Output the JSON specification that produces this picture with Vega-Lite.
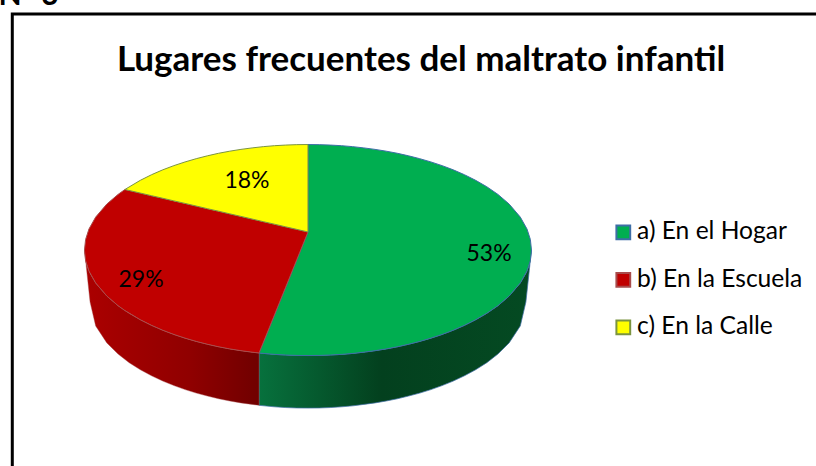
{
"$schema":"https://vega.github.io/schema/vega-lite/v6.json",
"width":816,"height":466,"padding":0,"autosize":{"type":"none"},
"background":"white",
"config":{"view":{"stroke":null}},
"title":{"text":"Lugares frecuentes del maltrato infantil","font":"Lato","fontSize":35,"fontWeight":"bold","color":"black","anchor":"middle","frame":"group","dx":13,"dy":97,"offset":0},
"datasets":{
"marco":[{"u":-1.323,"v":2.237,"u2":2.4,"v2":-2.3}],
"nota":[{"u":-1.385,"v":2.32,"texto":"N°  3"}],
"paredVerde":[
{"u":-0.219,"v":-0.976,"v2":-1.472},{"u":-0.15,"v":-0.989,"v2":-1.486},{"u":-0.1,"v":-0.995,"v2":-1.493},{"u":-0.05,"v":-0.999,"v2":-1.497},{"u":0,"v":-1,"v2":-1.498},{"u":0.05,"v":-0.999,"v2":-1.497},{"u":0.1,"v":-0.995,"v2":-1.493},{"u":0.15,"v":-0.989,"v2":-1.486},{"u":0.2,"v":-0.98,"v2":-1.477},{"u":0.25,"v":-0.968,"v2":-1.463},{"u":0.3,"v":-0.954,"v2":-1.449},{"u":0.35,"v":-0.937,"v2":-1.431},{"u":0.4,"v":-0.917,"v2":-1.41},{"u":0.45,"v":-0.893,"v2":-1.384},{"u":0.5,"v":-0.866,"v2":-1.356},{"u":0.55,"v":-0.835,"v2":-1.323},{"u":0.6,"v":-0.8,"v2":-1.285},{"u":0.65,"v":-0.76,"v2":-1.242},{"u":0.7,"v":-0.714,"v2":-1.192},{"u":0.75,"v":-0.661,"v2":-1.135},{"u":0.8,"v":-0.6,"v2":-1.068},{"u":0.85,"v":-0.527,"v2":-0.985},{"u":0.9,"v":-0.436,"v2":-0.88},{"u":0.95,"v":-0.312,"v2":-0.719},{"u":0.975,"v":-0.222,"v2":-0.493},{"u":0.99,"v":-0.141,"v2":-0.197},{"u":1,"v":0,"v2":0}],
"paredRoja":[
{"u":-1,"v":0,"v2":0},{"u":-0.99,"v":-0.141,"v2":-0.197},{"u":-0.975,"v":-0.222,"v2":-0.493},{"u":-0.95,"v":-0.312,"v2":-0.719},{"u":-0.9,"v":-0.436,"v2":-0.88},{"u":-0.85,"v":-0.527,"v2":-0.985},{"u":-0.8,"v":-0.6,"v2":-1.068},{"u":-0.75,"v":-0.661,"v2":-1.135},{"u":-0.7,"v":-0.714,"v2":-1.192},{"u":-0.65,"v":-0.76,"v2":-1.242},{"u":-0.6,"v":-0.8,"v2":-1.285},{"u":-0.55,"v":-0.835,"v2":-1.323},{"u":-0.5,"v":-0.866,"v2":-1.356},{"u":-0.45,"v":-0.893,"v2":-1.384},{"u":-0.4,"v":-0.917,"v2":-1.41},{"u":-0.35,"v":-0.937,"v2":-1.431},{"u":-0.3,"v":-0.954,"v2":-1.449},{"u":-0.25,"v":-0.968,"v2":-1.463},{"u":-0.219,"v":-0.976,"v2":-1.472}],
"caras":[
{"lugar":"a) En el Hogar","u":-0.219,"v":-0.976,"v2":-0.976},{"lugar":"a) En el Hogar","u":-0.15,"v":-0.615,"v2":-0.989},{"lugar":"a) En el Hogar","u":-0.1,"v":-0.353,"v2":-0.995},{"lugar":"a) En el Hogar","u":-0.05,"v":-0.091,"v2":-0.999},{"lugar":"a) En el Hogar","u":0,"v":0.171,"v2":-1},{"lugar":"a) En el Hogar","u":0.0001,"v":1,"v2":-1},{"lugar":"a) En el Hogar","u":0.05,"v":0.999,"v2":-0.999},{"lugar":"a) En el Hogar","u":0.1,"v":0.995,"v2":-0.995},{"lugar":"a) En el Hogar","u":0.15,"v":0.989,"v2":-0.989},{"lugar":"a) En el Hogar","u":0.2,"v":0.98,"v2":-0.98},{"lugar":"a) En el Hogar","u":0.25,"v":0.968,"v2":-0.968},{"lugar":"a) En el Hogar","u":0.3,"v":0.954,"v2":-0.954},{"lugar":"a) En el Hogar","u":0.35,"v":0.937,"v2":-0.937},{"lugar":"a) En el Hogar","u":0.4,"v":0.917,"v2":-0.917},{"lugar":"a) En el Hogar","u":0.45,"v":0.893,"v2":-0.893},{"lugar":"a) En el Hogar","u":0.5,"v":0.866,"v2":-0.866},{"lugar":"a) En el Hogar","u":0.55,"v":0.835,"v2":-0.835},{"lugar":"a) En el Hogar","u":0.6,"v":0.8,"v2":-0.8},{"lugar":"a) En el Hogar","u":0.65,"v":0.76,"v2":-0.76},{"lugar":"a) En el Hogar","u":0.7,"v":0.714,"v2":-0.714},{"lugar":"a) En el Hogar","u":0.75,"v":0.661,"v2":-0.661},{"lugar":"a) En el Hogar","u":0.8,"v":0.6,"v2":-0.6},{"lugar":"a) En el Hogar","u":0.85,"v":0.527,"v2":-0.527},{"lugar":"a) En el Hogar","u":0.9,"v":0.436,"v2":-0.436},{"lugar":"a) En el Hogar","u":0.95,"v":0.312,"v2":-0.312},{"lugar":"a) En el Hogar","u":0.98,"v":0.199,"v2":-0.199},{"lugar":"a) En el Hogar","u":0.995,"v":0.1,"v2":-0.1},{"lugar":"a) En el Hogar","u":1,"v":0,"v2":0},
{"lugar":"b) En la Escuela","u":-1,"v":0,"v2":0},{"lugar":"b) En la Escuela","u":-0.995,"v":0.1,"v2":-0.1},{"lugar":"b) En la Escuela","u":-0.98,"v":0.199,"v2":-0.199},{"lugar":"b) En la Escuela","u":-0.95,"v":0.312,"v2":-0.312},{"lugar":"b) En la Escuela","u":-0.9,"v":0.436,"v2":-0.436},{"lugar":"b) En la Escuela","u":-0.85,"v":0.527,"v2":-0.527},{"lugar":"b) En la Escuela","u":-0.819,"v":0.574,"v2":-0.574},{"lugar":"b) En la Escuela","u":-0.75,"v":0.54,"v2":-0.661},{"lugar":"b) En la Escuela","u":-0.7,"v":0.515,"v2":-0.714},{"lugar":"b) En la Escuela","u":-0.65,"v":0.491,"v2":-0.76},{"lugar":"b) En la Escuela","u":-0.6,"v":0.466,"v2":-0.8},{"lugar":"b) En la Escuela","u":-0.55,"v":0.442,"v2":-0.835},{"lugar":"b) En la Escuela","u":-0.5,"v":0.417,"v2":-0.866},{"lugar":"b) En la Escuela","u":-0.45,"v":0.392,"v2":-0.893},{"lugar":"b) En la Escuela","u":-0.4,"v":0.368,"v2":-0.917},{"lugar":"b) En la Escuela","u":-0.35,"v":0.343,"v2":-0.937},{"lugar":"b) En la Escuela","u":-0.3,"v":0.319,"v2":-0.954},{"lugar":"b) En la Escuela","u":-0.25,"v":0.294,"v2":-0.968},{"lugar":"b) En la Escuela","u":-0.219,"v":0.279,"v2":-0.976},{"lugar":"b) En la Escuela","u":-0.15,"v":0.245,"v2":-0.615},{"lugar":"b) En la Escuela","u":-0.1,"v":0.22,"v2":-0.353},{"lugar":"b) En la Escuela","u":-0.05,"v":0.196,"v2":-0.091},{"lugar":"b) En la Escuela","u":0,"v":0.171,"v2":0.171},
{"lugar":"c) En la Calle","u":-0.819,"v":0.574,"v2":0.574},{"lugar":"c) En la Calle","u":-0.75,"v":0.661,"v2":0.54},{"lugar":"c) En la Calle","u":-0.7,"v":0.714,"v2":0.515},{"lugar":"c) En la Calle","u":-0.65,"v":0.76,"v2":0.491},{"lugar":"c) En la Calle","u":-0.6,"v":0.8,"v2":0.466},{"lugar":"c) En la Calle","u":-0.55,"v":0.835,"v2":0.442},{"lugar":"c) En la Calle","u":-0.5,"v":0.866,"v2":0.417},{"lugar":"c) En la Calle","u":-0.45,"v":0.893,"v2":0.392},{"lugar":"c) En la Calle","u":-0.4,"v":0.917,"v2":0.368},{"lugar":"c) En la Calle","u":-0.35,"v":0.937,"v2":0.343},{"lugar":"c) En la Calle","u":-0.3,"v":0.954,"v2":0.319},{"lugar":"c) En la Calle","u":-0.25,"v":0.968,"v2":0.294},{"lugar":"c) En la Calle","u":-0.2,"v":0.98,"v2":0.269},{"lugar":"c) En la Calle","u":-0.15,"v":0.989,"v2":0.245},{"lugar":"c) En la Calle","u":-0.1,"v":0.995,"v2":0.22},{"lugar":"c) En la Calle","u":-0.05,"v":0.999,"v2":0.196},{"lugar":"c) En la Calle","u":0,"v":1,"v2":0.171}],
"porcentajes":[{"u":0.81,"v":-0.035,"pct":"53%"},{"u":-0.747,"v":-0.285,"pct":"29%"},{"u":-0.273,"v":0.655,"pct":"18%"}]
},
"encoding":{
"x":{"field":"u","type":"quantitative","axis":null,"scale":{"domain":[-1.378,2.273],"zero":false,"nice":false}},
"y":{"field":"v","type":"quantitative","axis":null,"scale":{"domain":[-2.047,2.37],"zero":false,"nice":false}}
},
"layer":[
{"data":{"name":"marco"},"mark":{"type":"rect","fill":null,"stroke":"black","strokeWidth":3,"clip":false},"encoding":{"x2":{"field":"u2"},"y2":{"field":"v2"}}},
{"data":{"name":"nota"},"mark":{"type":"text","align":"left","baseline":"alphabetic","font":"Lato","fontWeight":"bold","fontSize":30,"color":"black"},"encoding":{"text":{"field":"texto"}}},
{"data":{"name":"paredVerde"},"mark":{"type":"area","stroke":"#3e6ea6","strokeWidth":1,"strokeOpacity":0.7,"fill":{"gradient":"linear","x1":0,"y1":0,"x2":1,"y2":0,"stops":[{"offset":0,"color":"#07713d"},{"offset":0.45,"color":"#03401e"},{"offset":1,"color":"#044a22"}]}},"encoding":{"y2":{"field":"v2"}}},
{"data":{"name":"paredRoja"},"mark":{"type":"area","stroke":"#a84c4c","strokeWidth":1,"strokeOpacity":0.4,"fill":{"gradient":"linear","x1":0,"y1":0,"x2":1,"y2":0,"stops":[{"offset":0,"color":"#ab0000"},{"offset":0.6,"color":"#900000"},{"offset":1,"color":"#700000"}]}},"encoding":{"y2":{"field":"v2"}}},
{"data":{"name":"caras"},"mark":{"type":"area","strokeWidth":1,"opacity":1},"encoding":{
"y2":{"field":"v2"},
"fill":{"field":"lugar","type":"nominal","scale":{"domain":["a) En el Hogar","b) En la Escuela","c) En la Calle"],"range":["#00ae50","#c00000","#ffff00"]},"legend":{"title":null,"orient":"none","legendX":611,"legendY":220,"symbolType":"square","symbolSize":190,"symbolStrokeWidth":2,"symbolOpacity":1,"labelFont":"Lato","labelFontSize":24.6,"labelColor":"black","labelLimit":300,"rowPadding":22.5,"labelOffset":1.5}},
"stroke":{"field":"lugar","type":"nominal","scale":{"domain":["a) En el Hogar","b) En la Escuela","c) En la Calle"],"range":["#3e6ea6","#a84c4c","#7b9440"]},"legend":{"title":null,"orient":"none","legendX":611,"legendY":220,"symbolType":"square","symbolSize":190,"symbolStrokeWidth":2,"symbolOpacity":1,"labelFont":"Lato","labelFontSize":24.6,"labelColor":"black","labelLimit":300,"rowPadding":22.5,"labelOffset":1.5}}
}},
{"data":{"name":"porcentajes"},"mark":{"type":"text","font":"Lato","fontSize":23,"color":"black"},"encoding":{"text":{"field":"pct"}}}
]
}
